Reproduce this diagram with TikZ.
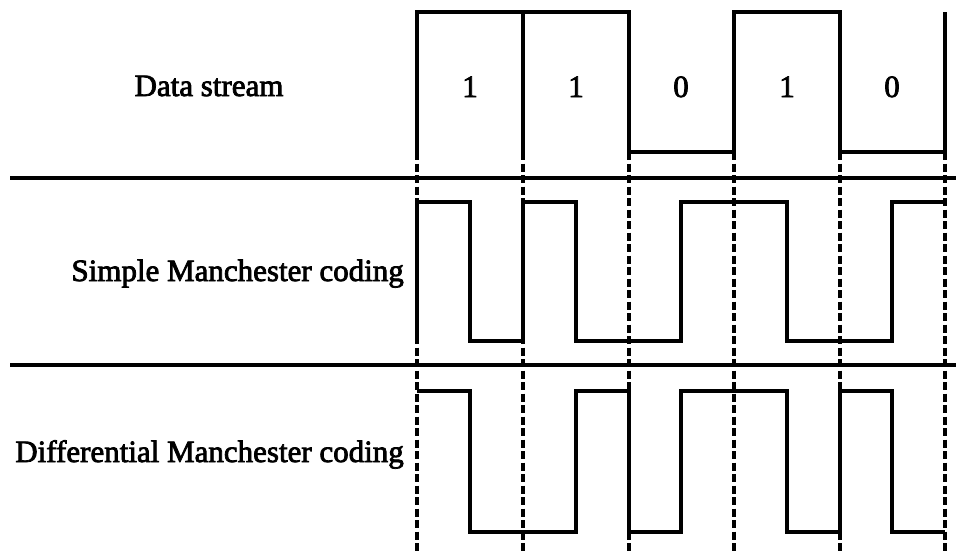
\documentclass[tikz,border=0pt]{standalone}
\usepackage{fontspec}
\setmainfont[AutoFakeBold=2.5]{Liberation Serif}
\usetikzlibrary{positioning}
\tikzset{
  wave/.style = {line width=3.2pt, line join=miter},
  sepline/.style = {line width=3.2pt},
  bitmark/.style = {line width=3.2pt, dash pattern=on 8pt off 3.5pt},
  lbl/.style = {font=\fontsize{31}{36}\selectfont\bfseries, inner sep=0pt},
}

\begin{document}
\begin{tikzpicture}[x=1pt, y=-1pt]
\useasboundingbox (0,0) rectangle (956,552);

% bit boundaries
\foreach \x [count=\i] in {417,523,629,734,840,945}
  \draw[bitmark] (\x,152) coordinate (b\i) -- (\x,552);

% row separators
\draw[sepline] (10,178) -- (956,178);
\draw[sepline] (10,365) -- (956,365);

% data stream
\draw[wave] (417,152) -- (417,12) -- (629,12) -- (629,152) -- (734,152)
  -- (734,12) -- (840,12) -- (840,152) -- (945,152) -- (945,12);
\draw[wave] (523,12) -- (523,152);
\foreach \x/\v [count=\i] in {470/1,576/1,681/0,787/1,892/0}
  \node[lbl, anchor=base] (d\i) at (\x,97) {\v};

% simple manchester
\draw[wave] (417,341) -- (417,202) -- (470,202) -- (470,341) -- (523,341)
  -- (523,202) -- (576,202) -- (576,341) -- (681,341) -- (681,202)
  -- (787,202) -- (787,341) -- (892,341) -- (892,202) -- (945,202);

% differential manchester
\draw[wave] (417,391) -- (470,391) -- (470,532) -- (576,532) -- (576,391)
  -- (629,391) -- (629,532) -- (681,532) -- (681,391) -- (787,391)
  -- (787,532) -- (840,532) -- (840,391) -- (892,391) -- (892,532)
  -- (945,532);

% row labels
\node[lbl, anchor=base] (data) at (209,96) {Data stream};
\node[lbl, anchor=base east] (simple) at (404,281) {Simple Manchester coding};
\node[lbl, anchor=base east] (diff) at (404,462) {Differential Manchester coding};

\end{tikzpicture}
\end{document}
